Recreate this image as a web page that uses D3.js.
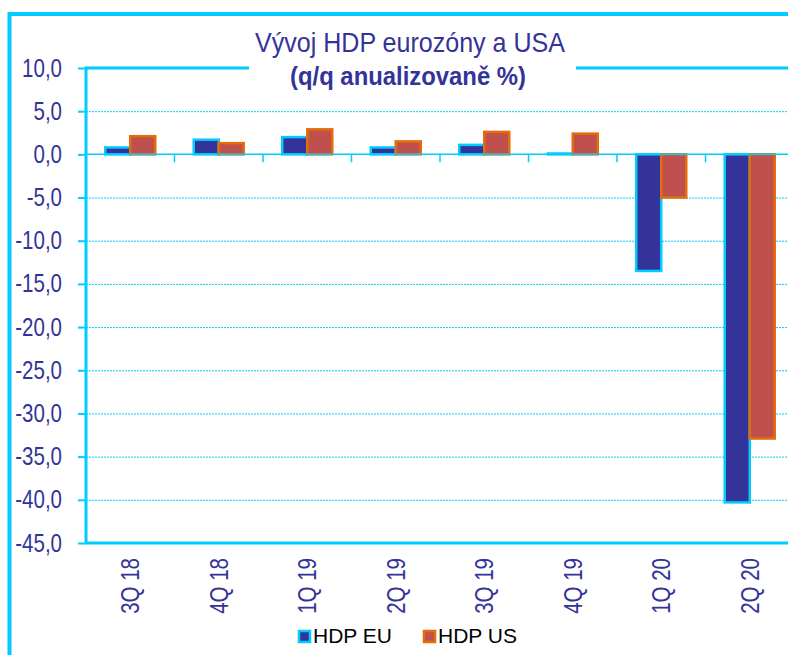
<!DOCTYPE html>
<html>
<head>
<meta charset="utf-8">
<script src="https://cdn.jsdelivr.net/npm/d3@7"></script>
<style>
  body { margin: 0; background: #fff; }
</style>
</head>
<body>
<div class="chart"></div>
<script>
// data
var quarters = ["3Q 18", "4Q 18", "1Q 19", "2Q 19", "3Q 19", "4Q 19", "1Q 20", "2Q 20"];
var seriesNames = ["HDP EU", "HDP US"];
var hdpEU = [0.8, 1.7, 2.0, 0.8, 1.1, 0.1, -13.5, -40.3];
var hdpUS = [2.1, 1.3, 2.9, 1.5, 2.6, 2.4, -5.0, -32.9];
var yTicks = [10, 5, 0, -5, -10, -15, -20, -25, -30, -35, -40, -45];

var titleLine1 = "Vývoj HDP eurozóny a USA";
var titleLine2 = "(q/q anualizovaně %)";

// svg params
var svgWidth = 788;
var svgHeight = 655;

var margin = {
  top: 68,
  right: -6,
  bottom: 112,
  left: 86
};

var width = svgWidth - margin.left - margin.right;
var height = svgHeight - margin.top - margin.bottom;

var cyan = "#00ccff";
var textBlue = "#333399";
var sans = "'Liberation Sans', Arial, sans-serif";
// no narrow font installed, squeeze the regular one
var squeeze = 0.82;

var colors = {
  "HDP EU": { fill: "#333399", stroke: "#00ccff" },
  "HDP US": { fill: "#c0504d", stroke: "#e46c0a" }
};

var plotData = quarters.map(function(q, i) {
  return { quarter: q, values: [
    { name: "HDP EU", value: hdpEU[i] },
    { name: "HDP US", value: hdpUS[i] }
  ] };
});

var svg = d3
  .select(".chart")
  .append("svg")
  .attr("width", svgWidth)
  .attr("height", svgHeight);

// outer frame
svg.append("path")
  .attr("d", "M9.5,660 V14 H800")
  .attr("fill", "none")
  .attr("stroke", cyan)
  .attr("stroke-width", 4);

var chartGroup = svg.append("g")
  .attr("transform", `translate(${margin.left}, ${margin.top})`);

// scales
var x0 = d3.scaleBand()
  .domain(quarters)
  .range([0, width])
  .paddingInner(0.435)
  .paddingOuter(0.2175);

var x1 = d3.scaleBand()
  .domain(seriesNames)
  .range([0, x0.bandwidth()]);

var yScale = d3.scaleLinear()
  .domain([-45, 10])
  .range([height, 0]);

// gridlines
chartGroup.append("g")
  .selectAll("line")
  .data(yTicks.filter(d => d !== 10 && d !== -45 && d !== 0))
  .enter()
  .append("line")
  .attr("x1", 0)
  .attr("x2", width)
  .attr("y1", d => yScale(d) + 0.5)
  .attr("y2", d => yScale(d) + 0.5)
  .attr("stroke", cyan)
  .attr("stroke-width", 1)
  .attr("stroke-dasharray", "2,1");

// y axis
var leftAxis = d3.axisLeft(yScale)
  .tickValues(yTicks)
  .tickSize(8)
  .tickPadding(16)
  .tickFormat(d => d3.format(".1f")(d).replace(".", ",").replace("−", "-"));

var yAxisGroup = chartGroup.append("g")
  .call(leftAxis);

yAxisGroup.select(".domain").remove();
yAxisGroup.selectAll(".tick line")
  .attr("stroke", cyan)
  .attr("stroke-width", 2);
yAxisGroup.selectAll(".tick text")
  .attr("x", -24 / squeeze)
  .attr("transform", `scale(${squeeze},1)`)
  .attr("fill", textBlue)
  .style("font-family", sans)
  .style("font-size", "25px");

// bars
var groups = chartGroup.selectAll(".group")
  .data(plotData)
  .enter()
  .append("g")
  .attr("class", "group")
  .attr("transform", d => `translate(${x0(d.quarter)}, 0)`);

groups.selectAll("rect")
  .data(d => d.values)
  .enter()
  .append("rect")
  .attr("x", d => x1(d.name))
  .attr("width", x1.bandwidth())
  .attr("y", d => yScale(Math.max(0, d.value)))
  .attr("height", d => Math.abs(yScale(d.value) - yScale(0)))
  .attr("fill", d => colors[d.name].fill)
  .attr("stroke", d => colors[d.name].stroke)
  .attr("stroke-width", 2.5);

// zero line with category ticks
chartGroup.append("line")
  .attr("x1", 0)
  .attr("x2", width)
  .attr("y1", yScale(0))
  .attr("y2", yScale(0))
  .attr("stroke", cyan)
  .attr("stroke-width", 1.5);

chartGroup.append("g")
  .selectAll("line")
  .data(quarters.slice(1))
  .enter()
  .append("line")
  .attr("x1", d => x0(d) - x0.step() * x0.paddingInner() / 2)
  .attr("x2", d => x0(d) - x0.step() * x0.paddingInner() / 2)
  .attr("y1", yScale(0))
  .attr("y2", yScale(0) + 8)
  .attr("stroke", cyan)
  .attr("stroke-width", 1.5);

// plot area border
chartGroup.append("path")
  .attr("d", `M${width},0 H0 V${height} H${width}`)
  .attr("fill", "none")
  .attr("stroke", cyan)
  .attr("stroke-width", 3);

// x labels (rotated)
chartGroup.append("g")
  .selectAll("text")
  .data(quarters)
  .enter()
  .append("text")
  .attr("transform", d => `translate(${x0(d) + x0.bandwidth() / 2 + 9}, ${height + 15}) rotate(-90) scale(${squeeze},1)`)
  .attr("text-anchor", "end")
  .attr("fill", textBlue)
  .style("font-family", sans)
  .style("font-size", "25px")
  .text(d => d);

// title
svg.append("rect")
  .attr("x", 249)
  .attr("y", 20)
  .attr("width", 327)
  .attr("height", 78)
  .attr("fill", "#fff");

svg.append("text")
  .attr("x", 410)
  .attr("y", 52)
  .attr("text-anchor", "middle")
  .attr("fill", textBlue)
  .style("font-family", sans)
  .style("font-size", "28px")
  .attr("textLength", 310)
  .attr("lengthAdjust", "spacingAndGlyphs")
  .text(titleLine1);

svg.append("text")
  .attr("x", 408)
  .attr("y", 85)
  .attr("text-anchor", "middle")
  .attr("fill", textBlue)
  .style("font-family", sans)
  .style("font-size", "26px")
  .style("font-weight", "bold")
  .attr("textLength", 236)
  .attr("lengthAdjust", "spacingAndGlyphs")
  .text(titleLine2);

// legend
var legend = svg.append("g")
  .selectAll("g")
  .data(seriesNames)
  .enter()
  .append("g")
  .attr("transform", (d, i) => `translate(${298 + i * 125}, 630)`);

legend.append("rect")
  .attr("x", 1)
  .attr("y", 1)
  .attr("width", 11)
  .attr("height", 11)
  .attr("fill", d => colors[d].fill)
  .attr("stroke", d => colors[d].stroke)
  .attr("stroke-width", 2.5);

legend.append("text")
  .attr("x", 15)
  .attr("y", 13)
  .attr("fill", "#000")
  .style("font-family", sans)
  .style("font-size", "21px")
  .text(d => d);
</script>
</body>
</html>
